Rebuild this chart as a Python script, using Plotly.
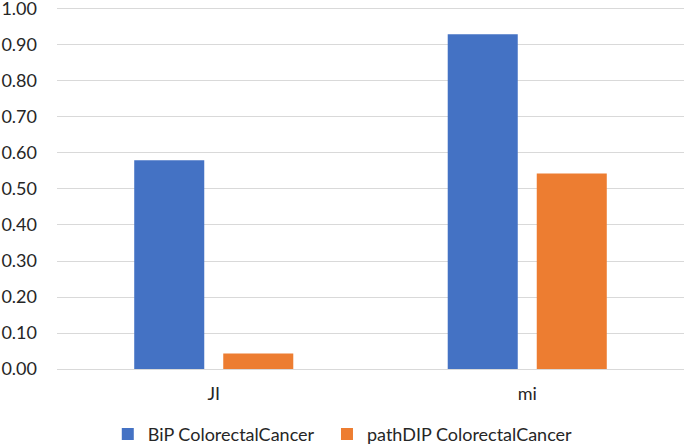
import plotly.graph_objects as go

categories = ["JI", "mi"]
bip_values = [0.58, 0.93]
pathdip_values = [0.043, 0.543]
series_names = ["BiP ColorectalCancer", "pathDIP ColorectalCancer"]
tick_values = [0.0, 0.1, 0.2, 0.3, 0.4, 0.5, 0.6, 0.7, 0.8, 0.9, 1.0]
tick_labels = ["0.00", "0.10", "0.20", "0.30", "0.40", "0.50", "0.60", "0.70", "0.80", "0.90", "1.00"]

font_family = "Lato, Open Sans, sans-serif"
text_color = "#262626"

fig = go.Figure()
fig.add_trace(go.Bar(x=categories, y=bip_values, name=series_names[0], legend="legend",
                     marker=dict(color="#4472C4", line=dict(width=0))))
fig.add_trace(go.Bar(x=categories, y=pathdip_values, name=series_names[1], legend="legend2",
                     marker=dict(color="#ED7D31", line=dict(width=0))))

legend_common = dict(orientation="h", xanchor="left", y=-0.178, yanchor="middle",
                     font=dict(size=18, color=text_color), itemwidth=30,
                     bgcolor="rgba(0,0,0,0)")

fig.update_layout(
    width=685, height=448,
    margin=dict(l=57, r=1, t=2, b=79, autoexpand=False),
    paper_bgcolor="white", plot_bgcolor="white",
    barmode="group", bargap=0.432, bargroupgap=0.2135,
    font=dict(family=font_family, size=18, color=text_color),
    showlegend=True,
    legend=dict(x=0.081, **legend_common),
    legend2=dict(x=0.4306, **legend_common),
)
fig.update_yaxes(range=[0, 1.0194], tickvals=tick_values, ticktext=tick_labels,
                 showgrid=True, gridcolor="#D9D9D9", gridwidth=1,
                 zeroline=False, showline=False, ticks="",
                 ticklabeloverflow="allow",
                 ticklabelstandoff=19, tickfont=dict(size=18, color=text_color))
fig.update_xaxes(showline=True, linecolor="#D9D9D9", linewidth=1, ticks="",
                 ticklabelstandoff=8, tickfont=dict(size=18, color=text_color))

fig.write_html("out.html", config={"displayModeBar": False},
               post_script="document.body.style.margin='0';")
